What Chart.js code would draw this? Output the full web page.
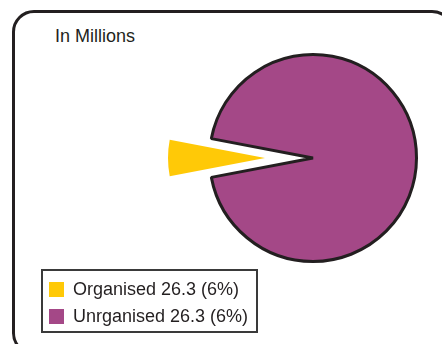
<!DOCTYPE html>
<html>
<head>
<meta charset="utf-8">
<script src="https://cdn.jsdelivr.net/npm/chart.js@4"></script>
<style>
    html, body { margin: 0; padding: 0; background: #fff; overflow: hidden; }
    body { width: 442px; height: 344px; position: relative; font-family: "Liberation Sans", Arial, Helvetica, sans-serif; color: #231f20; }
    /* rounded frame runs off the right and bottom edge in the original */
    .frame { position: absolute; left: 12px; top: 10px; width: 442px; height: 345px; box-sizing: border-box;
             border: 3px solid #231f20; border-radius: 22px; }
    .caption { position: absolute; left: 55px; top: 27px; font-size: 18px; line-height: 18px; white-space: nowrap; }
    #chart { position: absolute; left: 0; top: 0; }
    .legend { position: absolute; left: 41px; top: 269px; width: 217px; height: 64px; box-sizing: border-box;
              border: 2px solid #3a3a3a; padding: 11px 0 0 6px; font-size: 18px; }
    .legend .item { display: flex; align-items: center; height: 15px; line-height: 15px; margin-bottom: 12px; white-space: nowrap; }
    .legend .swatch { width: 15px; height: 15px; margin-right: 9px; flex: none; }
</style>
</head>
<body>
<div class="frame"></div>
<div class="caption">In Millions</div>
<canvas id="chart" width="442" height="344"></canvas>
<div class="legend" id="legend"></div>

<script>
// data as printed in the original (the legend repeats 26.3 / 6% for both rows)
const categories = ['Organised', 'Unrganised'];
const millions = [26.3, 26.3];
const percentLabels = ['6%', '6%'];
const shares = [6, 94]; // slice sizes in percent

const sliceColors = ['#ffc907', '#a44887'];

// pull the small slice out of the pie, like the original drawing
const EXPLODE = 48;
const SMALL_RADIUS = 97;
const explodeFirst = {
    id: 'explodeFirst',
    afterDatasetUpdate(chart) {
        const arc = chart.getDatasetMeta(0).data[0];
        if (!arc) return;
        const mid = (arc.startAngle + arc.endAngle) / 2;
        arc.x += Math.cos(mid) * EXPLODE;
        arc.y += Math.sin(mid) * EXPLODE;
        arc.outerRadius = SMALL_RADIUS;
    }
};

const total = shares.reduce((a, b) => a + b, 0);
// centre the first slice on the left side
const rotation = 270 - (shares[0] / total) * 180;

const ctx = document.getElementById('chart').getContext('2d');
const chart = new Chart(ctx, {
    type: 'pie',
    data: {
        labels: categories.map((c, i) => `${c} ${millions[i]} (${percentLabels[i]})`),
        datasets: [{
            data: shares,
            backgroundColor: sliceColors,
            borderColor: ['rgba(0,0,0,0)', '#231f20'],
            borderWidth: [0, 3],
            clip: false
        }]
    },
    options: {
        responsive: false,
        animation: false,
        rotation: rotation,
        radius: 103.5,
        layout: { padding: { left: 204, right: 20, top: 20, bottom: 48 } },
        plugins: {
            legend: { display: false },
            tooltip: { enabled: false },
            title: { display: false }
        }
    },
    plugins: [explodeFirst]
});

// html legend built from the chart's own labels/colours
const legendEl = document.getElementById('legend');
chart.data.labels.forEach((label, i) => {
    const item = document.createElement('div');
    item.className = 'item';
    const sw = document.createElement('span');
    sw.className = 'swatch';
    sw.style.background = chart.data.datasets[0].backgroundColor[i];
    const txt = document.createElement('span');
    txt.textContent = label;
    item.appendChild(sw);
    item.appendChild(txt);
    legendEl.appendChild(item);
});
</script>
</body>
</html>
